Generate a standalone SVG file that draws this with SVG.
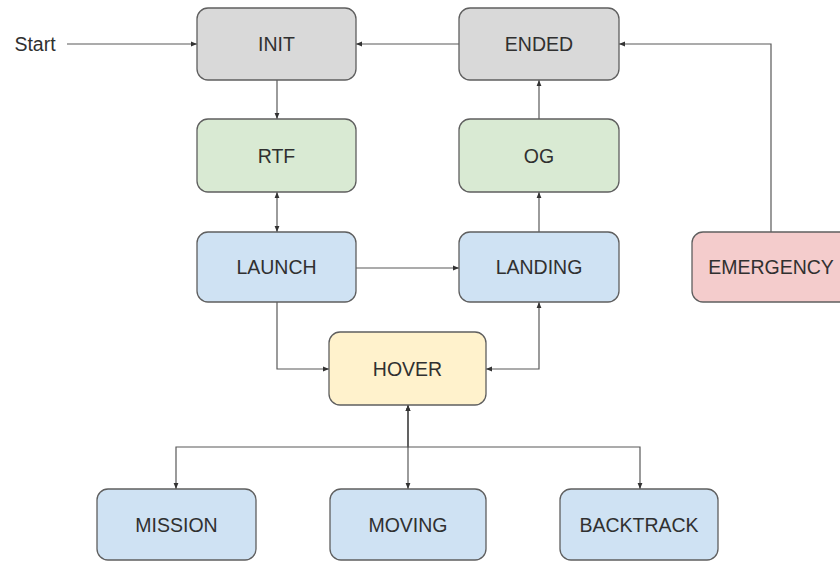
<svg xmlns="http://www.w3.org/2000/svg" width="840" height="561" viewBox="0 0 840 561">
<defs>
<style>
.box{stroke:#5f5f5f;stroke-width:1.3}
.gray{fill:#d9d9d9}.green{fill:#d9ead3}.blue{fill:#cfe2f3}.yellow{fill:#fff2cc}.red{fill:#f4cccc}
.lbl{font-family:"Liberation Sans",Arial,sans-serif;font-size:19.5px;fill:#303030;text-anchor:middle;dominant-baseline:central}
.c{fill:none;stroke:#595959;stroke-width:1.2}
</style>
<marker id="ah" markerUnits="userSpaceOnUse" markerWidth="6" markerHeight="6" refX="5" refY="2.5" orient="auto-start-reverse" viewBox="0 0 5 5">
<path d="M0,0.5 L5,2.5 L0,4.5 z" fill="#333"/>
</marker>
</defs>
<rect width="840" height="561" fill="#fff"/>
<g id="connectors">
<path class="c" d="M67,44 H197" marker-end="url(#ah)"/>
<path class="c" d="M459,44 H356" marker-end="url(#ah)"/>
<path class="c" d="M771,232 V44 H619" marker-end="url(#ah)"/>
<path class="c" d="M277,80 V119" marker-end="url(#ah)"/>
<path class="c" d="M277,192 V232" marker-start="url(#ah)" marker-end="url(#ah)"/>
<path class="c" d="M539,119 V80" marker-end="url(#ah)"/>
<path class="c" d="M539,232 V192" marker-end="url(#ah)"/>
<path class="c" d="M356,268 H459" marker-end="url(#ah)"/>
<path class="c" d="M277,302 V369 H329" marker-end="url(#ah)"/>
<path class="c" d="M486,369 H539 V302" marker-start="url(#ah)" marker-end="url(#ah)"/>
<path class="c" d="M408,405 V489" marker-start="url(#ah)" marker-end="url(#ah)"/>
<path class="c" d="M408,405 V447 H176 V489" marker-start="url(#ah)" marker-end="url(#ah)"/>
<path class="c" d="M408,405 V447 H640 V489" marker-start="url(#ah)" marker-end="url(#ah)"/>
</g>
<text class="lbl" x="35" y="44">Start</text>
<g id="INIT"><rect class="box gray" x="197" y="8" width="159" height="72" rx="11"/><text class="lbl" x="276.5" y="44">INIT</text></g>
<g id="ENDED"><rect class="box gray" x="459" y="8" width="160" height="72" rx="11"/><text class="lbl" x="539" y="44">ENDED</text></g>
<g id="RTF"><rect class="box green" x="197" y="119" width="159" height="73" rx="11"/><text class="lbl" x="276.5" y="155.5">RTF</text></g>
<g id="OG"><rect class="box green" x="459" y="119" width="160" height="73" rx="11"/><text class="lbl" x="539" y="155.5">OG</text></g>
<g id="LAUNCH"><rect class="box blue" x="197" y="232" width="159" height="70" rx="11"/><text class="lbl" x="276.5" y="267">LAUNCH</text></g>
<g id="LANDING"><rect class="box blue" x="459" y="232" width="160" height="70" rx="11"/><text class="lbl" x="539" y="267">LANDING</text></g>
<g id="EMERGENCY"><rect class="box red" x="692" y="232" width="159" height="70" rx="11"/><text class="lbl" x="771" y="267">EMERGENCY</text></g>
<g id="HOVER"><rect class="box yellow" x="329" y="332" width="157" height="73" rx="11"/><text class="lbl" x="407.5" y="368.5">HOVER</text></g>
<g id="MISSION"><rect class="box blue" x="97" y="489" width="159" height="71" rx="11"/><text class="lbl" x="176.5" y="524.5">MISSION</text></g>
<g id="MOVING"><rect class="box blue" x="330" y="489" width="156" height="71" rx="11"/><text class="lbl" x="408" y="524.5">MOVING</text></g>
<g id="BACKTRACK"><rect class="box blue" x="560" y="489" width="158" height="71" rx="11"/><text class="lbl" x="639" y="524.5">BACKTRACK</text></g>
</svg>
